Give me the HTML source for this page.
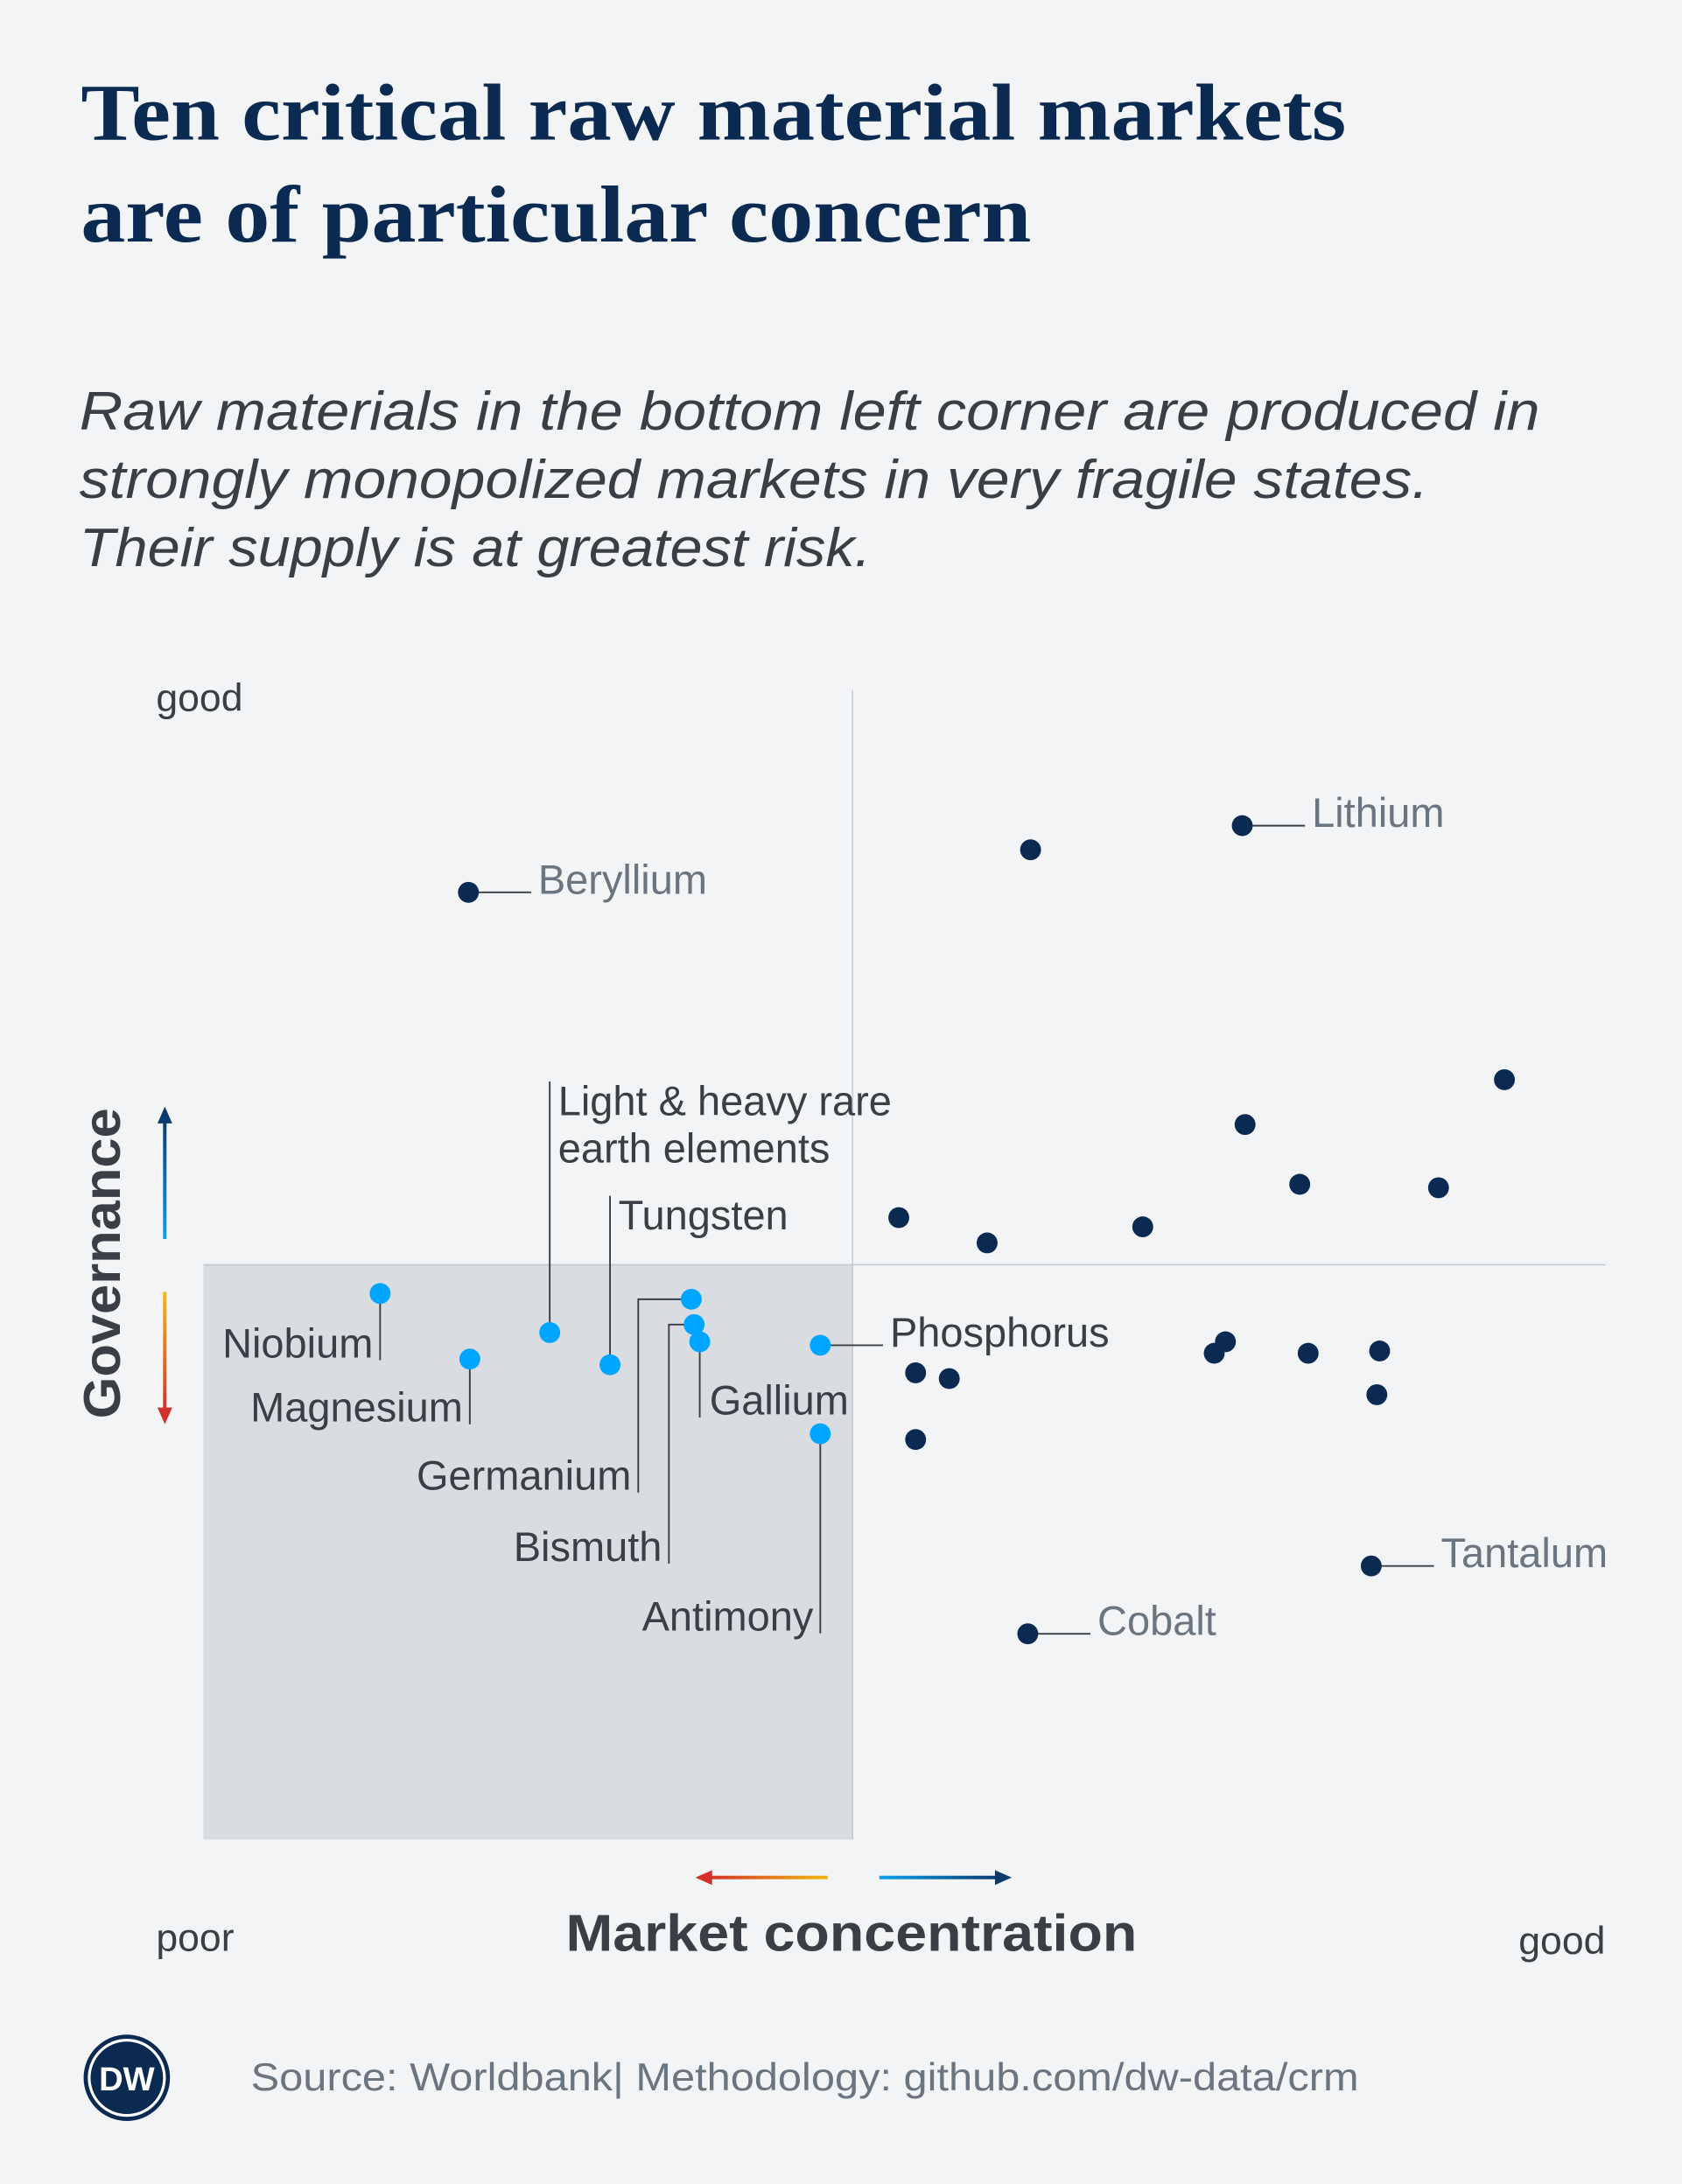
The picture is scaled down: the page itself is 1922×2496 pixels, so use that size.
<!DOCTYPE html>
<html><head><meta charset="utf-8"><style>
html,body{margin:0;padding:0;background:#f2f4f6}
svg{display:block}
</style></head><body>
<svg id="chart" width="1922" height="2496" viewBox="0 0 1207 1567" xmlns="http://www.w3.org/2000/svg" font-family="'Liberation Sans', sans-serif">
<defs>
<linearGradient id="gUp" x1="0" y1="1" x2="0" y2="0"><stop offset="0" stop-color="#0aa0ee"/><stop offset="1" stop-color="#0a3a6e"/></linearGradient>
<linearGradient id="gDown" x1="0" y1="0" x2="0" y2="1"><stop offset="0" stop-color="#f2b90f"/><stop offset="1" stop-color="#d2302a"/></linearGradient>
<linearGradient id="gLeft" x1="1" y1="0" x2="0" y2="0"><stop offset="0" stop-color="#f2b90f"/><stop offset="1" stop-color="#d2302a"/></linearGradient>
<linearGradient id="gRight" x1="0" y1="0" x2="1" y2="0"><stop offset="0" stop-color="#0aa0ee"/><stop offset="1" stop-color="#0a3a6e"/></linearGradient>
</defs>
<rect width="1207" height="1567" fill="#f2f4f6"/>
<g font-family="'Liberation Serif', serif" font-weight="bold" fill="#0a2a52" font-size="58">
<text x="58" y="100" textLength="908" lengthAdjust="spacingAndGlyphs">Ten critical raw material markets</text>
<text x="58" y="173" textLength="682" lengthAdjust="spacingAndGlyphs">are of particular concern</text>
</g>
<g font-style="italic" fill="#3a3f45" font-size="39">
<text x="57" y="308" textLength="1048" lengthAdjust="spacingAndGlyphs">Raw materials in the bottom left corner are produced in</text>
<text x="57" y="357" textLength="968" lengthAdjust="spacingAndGlyphs">strongly monopolized markets in very fragile states.</text>
<text x="57" y="406" textLength="568" lengthAdjust="spacingAndGlyphs">Their supply is at greatest risk.</text>
</g>
<g id="plot"></g>
<g fill="#3a3f45">
<text x="112" y="510" font-size="28">good</text>
<text x="112" y="1400" font-size="28">poor</text>
<text x="1152" y="1402" font-size="28" text-anchor="end">good</text>
<text x="406" y="1400" font-size="37" font-weight="bold" textLength="410" lengthAdjust="spacingAndGlyphs">Market concentration</text>
<text transform="translate(86,1018) rotate(-90)" font-size="37" font-weight="bold" textLength="223" lengthAdjust="spacingAndGlyphs">Governance</text>
</g>
<g>
<rect x="117" y="803" width="2.5" height="86" fill="url(#gUp)"/><polygon points="118.3,794 113,806 123.6,806" fill="#0a3a6e"/>
<rect x="117" y="927" width="2.5" height="86" fill="url(#gDown)"/><polygon points="118.3,1022 113,1010 123.6,1010" fill="#d2302a"/>
<rect x="508" y="1346" width="86" height="2.5" fill="url(#gLeft)"/><polygon points="499,1347.3 511,1342 511,1352.6" fill="#d2302a"/>
<rect x="631" y="1346" width="86" height="2.5" fill="url(#gRight)"/><polygon points="726,1347.3 714,1342 714,1352.6" fill="#0a3a6e"/>
</g>
<g>
<circle cx="91" cy="1491" r="31" fill="#0a2a52"/>
<circle cx="91" cy="1491" r="27" fill="none" stroke="#fff" stroke-width="2"/>
<text x="91" y="1500" font-size="24" font-weight="bold" fill="#fff" text-anchor="middle">DW</text>
<text x="180" y="1500" font-size="28" fill="#6b7580" textLength="795" lengthAdjust="spacingAndGlyphs">Source: Worldbank| Methodology: github.com/dw-data/crm</text>
</g>
</svg>
<script>
const names = ["Beryllium","","Lithium","","","","","","","","Niobium","Magnesium","Light & heavy rare|earth elements","Tungsten","Germanium","Bismuth","Gallium","Phosphorus","Antimony","","","","","","","","","Tantalum","Cobalt"];
const concentration = [18.9,59.0,74.1,92.8,74.3,78.2,88.1,49.6,55.9,67.0,12.6,19.0,24.7,29.0,34.8,35.0,35.4,44.0,44.0,50.8,53.2,50.8,72.9,72.1,78.8,83.9,83.7,83.3,58.8];
const governance = [82.4,86.1,88.2,66.1,62.2,57.0,56.7,54.1,51.9,53.3,47.5,41.8,44.1,41.3,47.0,44.8,43.3,43.0,35.3,40.6,40.1,34.8,43.3,42.3,42.3,42.5,38.7,23.8,17.9];
const critical = [0,0,0,0,0,0,0,0,0,0,1,1,1,1,1,1,1,1,1,0,0,0,0,0,0,0,0,0,0];
const xMid = 46.3, yMid = 50;
const NS='http://www.w3.org/2000/svg';
const X0=146,X1=1152,Y0=1320,Y1=495;
const xs=v=>X0+(X1-X0)*v/100;
const ys=v=>Y0-(Y0-Y1)*v/100;
const plot=document.getElementById('plot');
const FS=29.5;
function mk(tag,attrs,parent){const e=document.createElementNS(NS,tag);for(const k in attrs)e.setAttribute(k,attrs[k]);(parent||plot).appendChild(e);return e;}
const shade=mk('rect',{x:X0,y:ys(yMid),width:xs(xMid)-X0,height:Y0-ys(yMid),fill:'#d9dde1'});


const vl=mk('line',{x1:xs(xMid),x2:xs(xMid),y1:Y1,y2:Y0,stroke:'#c5cbd1','stroke-width':1});


const hl=mk('line',{x1:X0,x2:X1,y1:ys(yMid),y2:ys(yMid),stroke:'#c5cbd1','stroke-width':1});


const lay={
 "Beryllium":{t:'right'},"Lithium":{t:'right'},"Tantalum":{t:'right'},"Cobalt":{t:'right'},
 "Phosphorus":{t:'right'},
 "Niobium":{t:'downleft',ly:974},
 "Magnesium":{t:'downleft',ly:1020},
 "Germanium":{t:'elbow',ex:458,ly:1069},
 "Bismuth":{t:'elbow',ex:480,ly:1120},
 "Antimony":{t:'downleft',ly:1170},
 "Gallium":{t:'downright',ly:1015},
 "Light & heavy rare|earth elements":{t:'up',ly:800},
 "Tungsten":{t:'up',ly:882}
};
for(let i=0;i<concentration.length;i++){
 const cx=xs(concentration[i]),cy=ys(governance[i]);
 const n=names[i];
 const lblColor=critical[i]?'#3a3f45':'#6b7580';
 if(n){
  const L=lay[n];const g=mk('g',{});
  
  
  const ln={stroke:'#3a3f45','stroke-width':1.2,fill:'none'};
  if(L.t==='right'){
   mk('line',Object.assign({x1:cx,y1:cy,x2:cx+45,y2:cy},ln),g);
   mk('text',{x:cx+50,y:cy+1,'font-size':FS,fill:lblColor},g).textContent=n;
  } else if(L.t==='downleft'){
   mk('line',Object.assign({x1:cx,y1:cy,x2:cx,y2:L.ly+2},ln),g);
   mk('text',{x:cx-5,y:L.ly,'font-size':FS,fill:lblColor,'text-anchor':'end'},g).textContent=n;
  } else if(L.t==='downright'){
   mk('line',Object.assign({x1:cx,y1:cy,x2:cx,y2:L.ly+2},ln),g);
   mk('text',{x:cx+7,y:L.ly,'font-size':FS,fill:lblColor},g).textContent=n;
  } else if(L.t==='elbow'){
   mk('polyline',Object.assign({points:`${cx},${cy} ${L.ex},${cy} ${L.ex},${L.ly+2}`},ln),g);
   mk('text',{x:L.ex-5,y:L.ly,'font-size':FS,fill:lblColor,'text-anchor':'end'},g).textContent=n;
  } else if(L.t==='up'){
   const parts=n.split('|');
   mk('line',Object.assign({x1:cx,y1:cy,x2:cx,y2:L.ly-24},ln),g);
   parts.forEach((p,k)=>{mk('text',{x:cx+6,y:L.ly+k*34,'font-size':FS,fill:lblColor},g).textContent=p;});
  }
 }
}
for(let i=0;i<concentration.length;i++){
 const c=mk('circle',{cx:xs(concentration[i]),cy:ys(governance[i]),r:7.5,fill:critical[i]?'#00a5ff':'#0a2a52'});
 
 
}
</script>
</body></html>
